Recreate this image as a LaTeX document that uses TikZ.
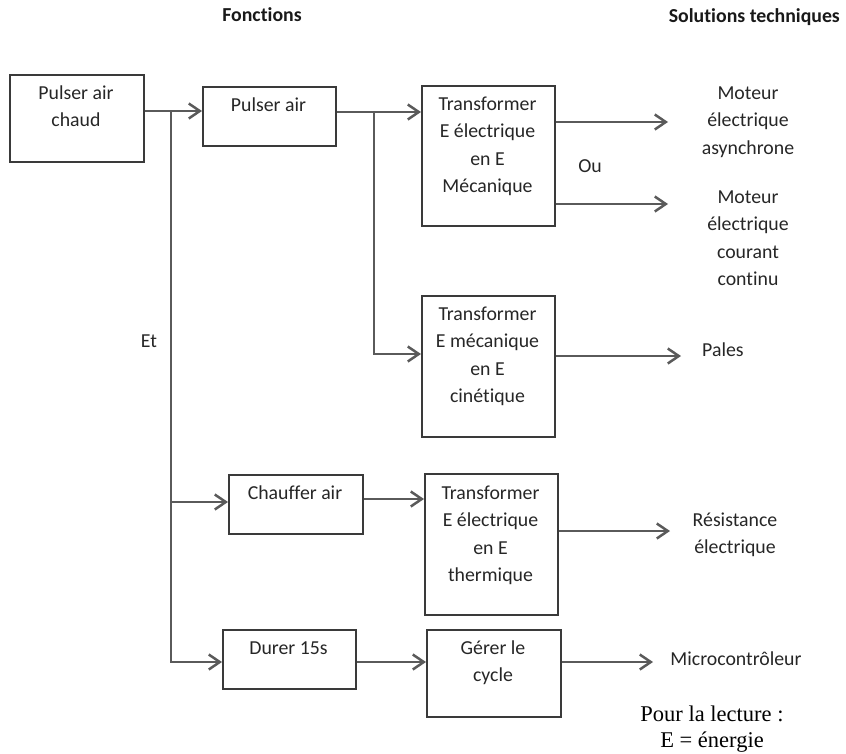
\documentclass[tikz,border=0pt]{standalone}
\usepackage{fontspec}
\setmainfont{Carlito}[Ligatures=NoCommon]
\newfontfamily\timesfont{Liberation Serif}
\usetikzlibrary{arrows.meta}
\definecolor{conncol}{HTML}{5A5A5A}
\definecolor{boxcol}{HTML}{3A3A3A}
\begin{document}
\begin{tikzpicture}[x=1pt,y=-1pt,
  box/.style={draw=boxcol, line width=1.5pt, inner sep=0pt, anchor=north west},
  txt/.style={font=\fontsize{19.8}{27.5}\selectfont, align=center, inner sep=0pt, anchor=base, text=black!85},
  hdr/.style={font=\fontsize{19.8}{24}\selectfont\bfseries, inner sep=0pt, anchor=base, text=black!90},
  conn/.style={draw=conncol, line width=2.5pt, -{Straight Barb[length=11pt,width=15pt]}}]
\useasboundingbox (0,0) rectangle (846,753);

% headers
\node[hdr] (h1) at (262,21) {Fonctions};
\node[hdr, anchor=base east] (h2) at (840,22) {Solutions techniques};

% boxes
\node[box, minimum width=134pt, minimum height=87pt] (b1) at (9,74) {};
\node[box, minimum width=133pt, minimum height=59pt] (b2) at (202,86) {};
\node[box, minimum width=133pt, minimum height=140pt] (b3) at (421,85) {};
\node[box, minimum width=133pt, minimum height=141pt] (b4) at (421,295) {};
\node[box, minimum width=134pt, minimum height=59pt] (b5) at (228,474) {};
\node[box, minimum width=133pt, minimum height=141pt] (b6) at (424,473) {};
\node[box, minimum width=133pt, minimum height=59pt] (b7) at (222,629) {};
\node[box, minimum width=134pt, minimum height=87pt] (b8) at (426,629) {};

% box texts (base = baseline of last line)
\node[txt] (t1) at (76,126.5) {Pulser air\\chaud};
\node[txt] (t2) at (268.5,111) {Pulser air};
\node[txt] (t3) at (487.5,192.5) {Transformer\\E électrique\\en E\\Mécanique};
\node[txt] (t4) at (487.5,402.5) {Transformer\\E mécanique\\en E\\cinétique};
\node[txt] (t5) at (295,499) {Chauffer air};
\node[txt] (t6) at (490.5,581.5) {Transformer\\E électrique\\en E\\thermique};
\node[txt] (t7) at (288.5,654) {Durer 15s};
\node[txt] (t8) at (493,681.5) {Gérer le\\cycle};

% solutions
\node[txt] (s1) at (748,154) {Moteur\\électrique\\asynchrone};
\node[txt] (s2) at (748,285.5) {Moteur\\électrique\\courant\\continu};
\node[txt, anchor=base west] (s3) at (702,356) {Pales};
\node[txt] (s4) at (735,553.5) {Résistance\\électrique};
\node[txt] (s5) at (736,665) {Microcontrôleur};
\node[txt] (ou) at (590,172) {Ou};
\node[txt] (et) at (149,347) {Et};

% legend
\node[font=\timesfont\fontsize{22.5}{26}\selectfont, align=center, anchor=base, inner sep=0pt] (leg) at (712,747) {Pour la lecture :\\E = énergie};

% connectors, level 1
\coordinate (j1) at (171,111);
\coordinate (k5) at (171,502);
\coordinate (k7) at (171,662);
\draw[conn] (b1.east |- j1) -- (b2.west |- j1);
\draw[conn] (j1) -- (k7) -- (b7.west |- k7);
\draw[conn] (k5) -- (b5.west |- k5);

% level 2
\coordinate (j2) at (374,112);
\coordinate (k4) at (374,354);
\draw[conn] (b2.east |- j2) -- (b3.west |- j2);
\draw[conn] (j2) -- (k4) -- (b4.west |- k4);
\coordinate (m5) at (394,499);
\draw[conn] (b5.east |- m5) -- (b6.west |- m5);
\coordinate (m7) at (390,662);
\draw[conn] (b7.east |- m7) -- (b8.west |- m7);

% to solutions
\coordinate (e1) at (668,122);
\coordinate (e2) at (668,204);
\coordinate (e3) at (681,356);
\coordinate (e4) at (670,531);
\coordinate (e5) at (653,662);
\draw[conn] (b3.east |- e1) -- (e1);
\draw[conn] (b3.east |- e2) -- (e2);
\draw[conn] (b4.east |- e3) -- (e3);
\draw[conn] (b6.east |- e4) -- (e4);
\draw[conn] (b8.east |- e5) -- (e5);
\end{tikzpicture}
\end{document}
